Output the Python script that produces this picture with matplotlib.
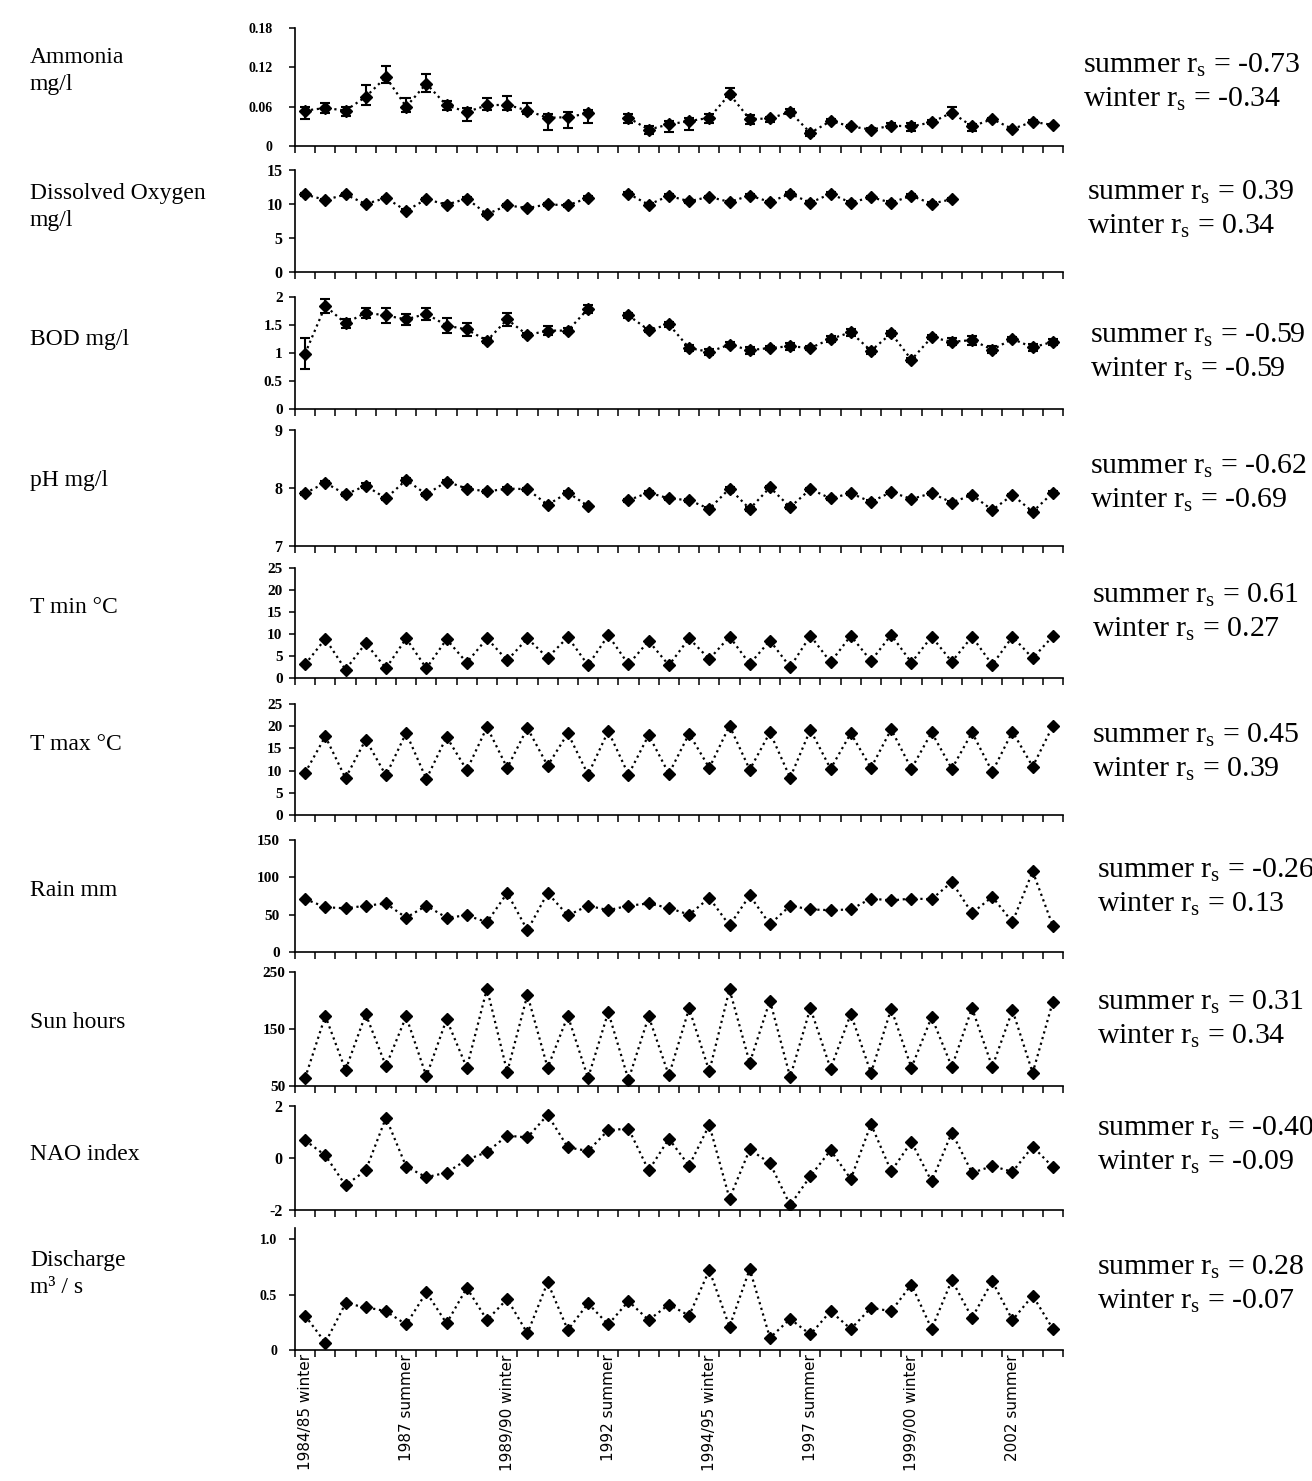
import matplotlib.pyplot as plt
import numpy as np

nan = np.nan

# ---------------- data ----------------
seasons = ['1984/85 winter', '1985 summer', '1985/86 winter', '1986 summer',
           '1986/87 winter', '1987 summer', '1987/88 winter', '1988 summer',
           '1988/89 winter', '1989 summer', '1989/90 winter', '1990 summer',
           '1990/91 winter', '1991 summer', '1991/92 winter', '1992 summer',
           '1992/93 winter', '1993 summer', '1993/94 winter', '1994 summer',
           '1994/95 winter', '1995 summer', '1995/96 winter', '1996 summer',
           '1996/97 winter', '1997 summer', '1997/98 winter', '1998 summer',
           '1998/99 winter', '1999 summer', '1999/00 winter', '2000 summer',
           '2000/01 winter', '2001 summer', '2001/02 winter', '2002 summer',
           '2002/03 winter', '2003 summer']

ammonia = [0.054, 0.058, 0.054, 0.075, 0.105, 0.060, 0.095, 0.062, 0.052, 0.062,
           0.063, 0.054, 0.043, 0.044, 0.050, nan, 0.043, 0.025, 0.033, 0.038,
           0.043, 0.079, 0.041, 0.042, 0.052, 0.020, 0.038, 0.030, 0.025, 0.031,
           0.030, 0.036, 0.051, 0.030, 0.041, 0.026, 0.037, 0.032]
ammonia_lo = [0.013, 0.008, 0.008, 0.013, 0.009, 0.008, 0.013, 0.007, 0.014, 0.007,
              0.008, 0.005, 0.018, 0.017, 0.015, nan, 0.008, 0.006, 0.011, 0.013,
              0.008, 0.005, 0.008, 0.005, 0.003, 0.004, 0.0025, 0.003, 0.0025, 0.004,
              0.007, 0.003, 0.004, 0.007, 0.002, 0.002, 0.002, 0.002]
ammonia_hi = [0.006, 0.008, 0.006, 0.018, 0.017, 0.013, 0.015, 0.007, 0.006, 0.011,
              0.014, 0.011, 0.006, 0.008, 0.005, nan, 0.006, 0.005, 0.005, 0.004,
              0.006, 0.009, 0.006, 0.003, 0.005, 0.003, 0.0025, 0.0025, 0.0025, 0.004,
              0.005, 0.003, 0.008, 0.003, 0.002, 0.002, 0.002, 0.002]

oxygen = [11.4, 10.6, 11.4, 10.0, 10.9, 9.0, 10.7, 9.9, 10.8, 8.5,
          9.8, 9.4, 9.95, 9.8, 10.9, nan, 11.5, 9.9, 11.2, 10.4,
          11.05, 10.3, 11.25, 10.3, 11.5, 10.2, 11.5, 10.2, 11.0, 10.2,
          11.2, 10.05, 10.7, nan, nan, nan, nan, nan]
oxygen_err = [0.2, 0.2, 0.2, 0.2, 0.2, 0.2, 0.2, 0.2, 0.2, 0.2,
              0.2, 0.2, 0.2, 0.2, 0.25, nan, 0.2, 0.2, 0.2, 0.2,
              0.2, 0.2, 0.2, 0.2, 0.2, 0.2, 0.2, 0.2, 0.2, 0.2,
              0.2, 0.2, 0.2, nan, nan, nan, nan, nan]

bod = [0.99, 1.84, 1.53, 1.72, 1.67, 1.60, 1.70, 1.49, 1.42, 1.22,
       1.60, 1.32, 1.40, 1.40, 1.79, nan, 1.67, 1.41, 1.51, 1.09,
       1.02, 1.15, 1.05, 1.09, 1.12, 1.09, 1.25, 1.37, 1.04, 1.35,
       0.88, 1.28, 1.20, 1.23, 1.06, 1.25, 1.10, 1.20]
bod_err = [0.27, 0.12, 0.08, 0.09, 0.14, 0.10, 0.11, 0.14, 0.12, 0.04,
           0.12, 0.04, 0.08, 0.04, 0.07, nan, 0.05, 0.04, 0.04, 0.06,
           0.05, 0.04, 0.06, 0.04, 0.06, 0.035, 0.05, 0.06, 0.05, 0.045,
           0.035, 0.035, 0.06, 0.08, 0.06, 0.03, 0.06, 0.05]

ph = [7.91, 8.09, 7.89, 8.04, 7.82, 8.14, 7.89, 8.11, 7.99, 7.94,
      7.99, 7.98, 7.71, 7.92, 7.69, nan, 7.79, 7.92, 7.82, 7.79,
      7.64, 7.99, 7.64, 8.01, 7.67, 7.98, 7.82, 7.91, 7.76, 7.93,
      7.81, 7.91, 7.75, 7.88, 7.62, 7.88, 7.59, 7.92]
ph_err = [0.025, 0.025, 0.025, 0.04, 0.03, 0.035, 0.025, 0.025, 0.025, 0.025,
          0.025, 0.025, 0.025, 0.025, 0.025, nan, 0.025, 0.025, 0.025, 0.025,
          0.025, 0.025, 0.03, 0.025, 0.03, 0.025, 0.025, 0.025, 0.025, 0.025,
          0.025, 0.025, 0.025, 0.025, 0.025, 0.025, 0.025, 0.025]

tmin = [3.1, 8.9, 1.9, 7.9, 2.2, 9.0, 2.2, 8.8, 3.5, 9.0,
        4.0, 9.0, 4.6, 9.3, 2.9, 9.7, 3.1, 8.4, 2.9, 9.0,
        4.3, 9.4, 3.2, 8.5, 2.5, 9.6, 3.6, 9.6, 3.9, 9.8,
        3.5, 9.4, 3.7, 9.4, 3.0, 9.4, 4.5, 9.5]

tmax = [9.5, 17.7, 8.3, 17.0, 8.9, 18.5, 8.1, 17.6, 10.1, 19.8,
        10.6, 19.6, 11.1, 18.4, 9.1, 18.9, 9.1, 18.0, 9.3, 18.3,
        10.6, 20.1, 10.2, 18.6, 8.4, 19.2, 10.4, 18.4, 10.6, 19.3,
        10.4, 18.6, 10.4, 18.6, 9.7, 18.8, 10.9, 20.1]

rain = [71, 60, 58.5, 62, 65, 46, 62, 46, 49, 40,
        79, 29, 79, 49, 62, 56, 62, 65, 59, 50,
        72.5, 35.6, 75.7, 37, 62, 57, 56, 57, 71.6, 69,
        71.6, 70.7, 93.7, 52, 74, 40, 108, 34.7]

sun = [64, 173, 78, 176, 85, 172, 67, 167, 82, 221,
       74.5, 210, 82, 173, 64, 179.6, 61, 172, 68.5, 186,
       75.7, 219.5, 90.6, 200, 65.5, 186.7, 80.4, 176.6, 72.7, 185.5,
       82, 171, 83.4, 186.7, 83.4, 183, 73, 198]

nao = [0.68, 0.10, -1.05, -0.48, 1.55, -0.33, -0.74, -0.56, -0.07, 0.23,
       0.86, 0.79, 1.66, 0.41, 0.27, 1.07, 1.13, -0.48, 0.74, -0.30,
       1.27, -1.56, 0.33, -0.20, -1.81, -0.70, 0.30, -0.81, 1.30, -0.51,
       0.62, -0.90, 0.98, -0.57, -0.31, -0.53, 0.44, -0.35]

discharge = [0.31, 0.066, 0.42, 0.386, 0.35, 0.23, 0.52, 0.24, 0.56, 0.27,
             0.46, 0.15, 0.61, 0.18, 0.42, 0.23, 0.44, 0.27, 0.41, 0.31,
             0.72, 0.21, 0.73, 0.11, 0.28, 0.14, 0.35, 0.19, 0.38, 0.35,
             0.59, 0.19, 0.63, 0.29, 0.62, 0.27, 0.49, 0.19]

names = ['Ammonia\nmg/l', 'Dissolved Oxygen\nmg/l', 'BOD mg/l', 'pH mg/l',
         'T min \u00b0C', 'T max \u00b0C', 'Rain mm', 'Sun hours', 'NAO index',
         'Discharge\nm\u00b3 / s']
r_summer = ['-0.73', '0.39', '-0.59', '-0.62', '0.61', '0.45', '-0.26', '0.31', '-0.40', '0.28']
r_winter = ['-0.34', '0.34', '-0.59', '-0.69', '0.27', '0.39', '0.13', '0.34', '-0.09', '-0.07']

yticks = [[0, 0.06, 0.12, 0.18], [0, 5, 10, 15], [0, 0.5, 1, 1.5, 2], [7, 8, 9],
          [0, 5, 10, 15, 20, 25], [0, 5, 10, 15, 20, 25], [0, 50, 100, 150],
          [50, 150, 250], [-2, 0, 2], [0, 0.5, 1.0]]
ytlabels = [['0', '0.06', '0.12', '0.18'], ['0', '5', '10', '15'],
            ['0', '0.5', '1', '1.5', '2'], ['7', '8', '9'],
            ['0', '5', '10', '15', '20', '25'], ['0', '5', '10', '15', '20', '25'],
            ['0', '50', '100', '150'], ['50', '150', '250'], ['-2', '0', '2'],
            ['0', '0.5', '1.0']]
ylims = [(0, 0.18), (0, 15), (0, 2), (7, 9), (0, 25), (0, 25), (0, 150),
         (50, 250), (-2, 2), (0, 1.1)]

series = [ammonia, oxygen, bod, ph, tmin, tmax, rain, sun, nao, discharge]
errors = [[ammonia_lo, ammonia_hi], oxygen_err, bod_err, ph_err,
          None, None, None, None, None, None]

# ---------------- layout (pixels in the 1312x1481 figure) ----------------
W, H = 1312, 1481
ax_left, ax_right = 295, 1063
tops = [28, 170, 297, 430, 568, 704, 840, 972, 1106, 1228]
bots = [146, 272, 409, 546, 678, 815, 952, 1086, 1210, 1350]
ypad = [12, 5, 5, 5, 5, 5, 7, 3, 5, 9]
tick_fs = [10, 11.5, 11, 11.5, 11, 11, 11, 11, 11.5, 10]
name_y = [71, 207, 340, 480, 608, 745, 890, 1022, 1155, 1274]
r_x = [1083, 1087, 1090, 1090, 1092, 1092, 1097, 1097, 1097, 1097]
r_y = [65, 192, 335, 466, 595, 735, 870, 1002, 1128, 1267]

plt.rcParams['font.family'] = ['Liberation Serif', 'DejaVu Serif']
plt.rcParams['axes.unicode_minus'] = False
plt.rcParams['mathtext.fontset'] = 'custom'
plt.rcParams['mathtext.rm'] = 'Liberation Serif'
plt.rcParams['mathtext.it'] = 'Liberation Serif:italic'
plt.rcParams['mathtext.bf'] = 'Liberation Serif:bold'

fig = plt.figure(figsize=(W / 100, H / 100), dpi=100)
x = np.arange(len(seasons))

for i in range(10):
    ax = fig.add_axes([ax_left / W, 1 - bots[i] / H,
                       (ax_right - ax_left) / W, (bots[i] - tops[i]) / H])
    y = np.array(series[i], dtype=float)
    ax.plot(x, y, ls=':', lw=1.6, color='black', marker='D', ms=6.5,
            mfc='black', mec='black', zorder=3)
    if errors[i] is not None:
        ax.errorbar(x, y, yerr=errors[i], fmt='none', ecolor='black',
                    elinewidth=1.5, capsize=3.5, capthick=1.5, zorder=2)
    ax.set_xlim(-0.5, len(seasons) - 0.5)
    ax.set_ylim(*ylims[i])
    ax.set_yticks(yticks[i])
    ax.set_yticklabels(ytlabels[i], fontsize=tick_fs[i], fontweight='bold')
    ax.tick_params(axis='y', direction='out', length=4, width=1.1, pad=ypad[i])
    for s in ['top', 'right']:
        ax.spines[s].set_visible(False)
    ax.spines['left'].set_linewidth(1.2)
    ax.spines['bottom'].set_linewidth(1.2)

    # tick marks between categories, labels every 5th season
    ax.set_xticks(np.arange(-0.5, len(seasons)), minor=True)
    ax.tick_params(axis='x', which='minor', direction='out', length=5, width=1.1)
    if i == 9:
        ax.set_xticks(x[::5])
        ax.set_xticklabels(seasons[::5], rotation=90, fontsize=11,
                           family='DejaVu Sans', va='top', ha='center')
        ax.tick_params(axis='x', which='major', length=0, pad=3)
    else:
        ax.set_xticks([])

    fig.text(30 / W, 1 - name_y[i] / H, names[i], fontsize=17,
             ha='left', va='center', linespacing=1.35)
    fig.text(r_x[i] / W, 1 - r_y[i] / H,
             'summer r$_\\mathrm{s}$ = ' + r_summer[i], fontsize=21.5,
             ha='left', va='center')
    fig.text(r_x[i] / W, 1 - (r_y[i] + 34) / H,
             'winter r$_\\mathrm{s}$ = ' + r_winter[i], fontsize=21.5,
             ha='left', va='center')

plt.savefig('out.png', dpi=100)
